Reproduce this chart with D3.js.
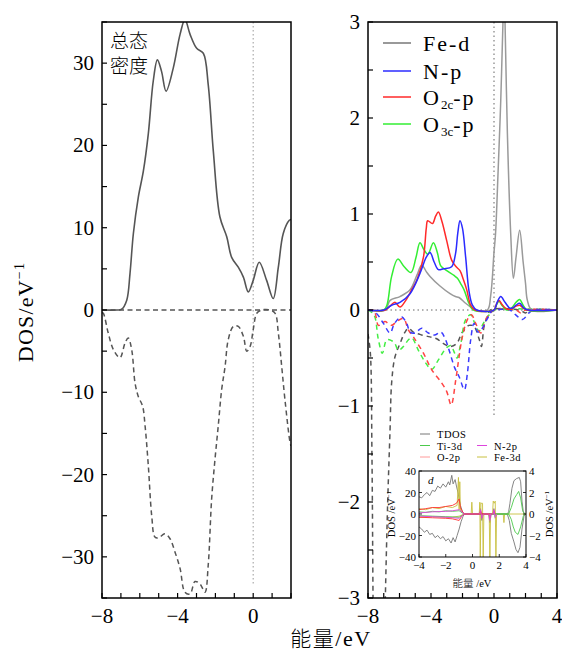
<!DOCTYPE html>
<html>
<head>
<meta charset="utf-8">
<script src="https://cdn.jsdelivr.net/npm/d3@7"></script>
<style>
  body { margin: 0; background: #fff; }
  text { font-family: "Liberation Serif", "DejaVu Serif", serif; fill: #000; }
  .cjk { font-family: "Noto Sans CJK SC", sans-serif; font-weight: 300; }
</style>
</head>
<body>
<svg id="chart" width="562" height="657"></svg>
<script>
// ---------- total DOS (left panel), energy in eV, DOS in states/eV ----------
const totalUp = [[-8,0],[-7.2,0],[-6.96,0.1],[-6.69,1.2],[-6.52,4.4],[-6.34,9.3],[-6.08,13.7],[-5.81,16.9],[-5.55,21.4],[-5.29,27.8],[-5.07,30.4],[-4.85,29],[-4.61,26.6],[-4.23,29.4],[-3.87,33.5],[-3.61,35.3],[-3.34,33.5],[-2.99,31.8],[-2.64,31.2],[-2.38,27.4],[-2.11,19.3],[-1.76,11.3],[-1.4,8.9],[-1.14,6.4],[-0.79,5.2],[-0.52,4.0],[-0.26,2.2],[0,3.6],[0.32,5.8],[0.71,3.6],[1.06,1.4],[1.33,5.2],[1.59,9.3],[1.91,10.9],[2,11]];
const totalDown = [[-8,-0.3],[-7.93,-0.4],[-7.67,-2.8],[-7.4,-4.8],[-7.05,-5.8],[-6.78,-4.0],[-6.61,-3.4],[-6.43,-4.8],[-6.25,-8.9],[-6.08,-10.5],[-5.85,-11.7],[-5.72,-14.1],[-5.55,-18.9],[-5.37,-25.0],[-5.2,-27.6],[-5.02,-27.7],[-4.67,-27.2],[-4.4,-27.8],[-4.14,-29.4],[-3.87,-31.4],[-3.61,-34.3],[-3.34,-34.5],[-3.08,-33.0],[-2.81,-33.3],[-2.55,-34.3],[-2.38,-31.0],[-2.2,-23.0],[-2.02,-18.1],[-1.85,-14.1],[-1.67,-9.7],[-1.49,-6.9],[-1.32,-3.6],[-1.05,-2.0],[-0.79,-2.0],[-0.52,-3.2],[-0.34,-5.0],[-0.16,-4.4],[0,-2.4],[0.19,-0.4],[0.45,0],[0.9,0],[1.16,-0.4],[1.33,-2.8],[1.51,-6.9],[1.68,-10.9],[1.95,-16.1],[2,-16.5]];

// ---------- projected DOS (right panel), spin up ----------
const feUp = [[-8,0],[-6.9,0],[-6.6,0.1],[-5.97,0.14],[-5.33,0.21],[-4.9,0.36],[-4.59,0.47],[-4.3,0.4],[-4.06,0.35],[-3.43,0.25],[-2.79,0.17],[-2.45,0.14],[-2.22,0.13],[-1.8,0.07],[-1.48,0.03],[-1.2,0],[-0.42,0],[-0.21,0.15],[0,0.6],[0.1,0.8],[0.25,1.4],[0.43,2.19],[0.57,3.0],[0.64,3.3],[0.7,3.0],[0.85,1.84],[1.06,0.8],[1.23,0.33],[1.4,0.55],[1.63,0.83],[1.85,0.5],[2.0,0.28],[2.12,0.1],[2.4,0],[4,0]];
const npUp = [[-8,0],[-7,0],[-6.5,0.05],[-5.97,0.08],[-5.33,0.17],[-4.7,0.38],[-4.3,0.55],[-4.06,0.6],[-3.8,0.5],[-3.53,0.42],[-3.2,0.43],[-2.69,0.45],[-2.45,0.58],[-2.3,0.8],[-2.16,0.93],[-2.0,0.85],[-1.8,0.55],[-1.59,0.2],[-1.37,0.05],[-1.1,0],[0,0],[0.2,0.08],[0.43,0.14],[0.7,0.08],[1.0,0.02],[1.17,0.02],[1.4,0.05],[1.63,0.07],[1.9,0.02],[2.2,0],[4,0]];
const o2cUp = [[-8,0],[-6.9,0],[-6.6,0.04],[-6.29,0.08],[-5.97,0.03],[-5.6,0.1],[-5.2,0.22],[-4.9,0.31],[-4.48,0.55],[-4.3,0.85],[-4.21,0.93],[-3.91,0.9],[-3.7,0.98],[-3.53,1.02],[-3.3,0.92],[-3.0,0.72],[-2.69,0.52],[-2.4,0.45],[-2.16,0.41],[-1.95,0.32],[-1.73,0.21],[-1.48,0.05],[-1.2,0],[0,0],[0.15,0.06],[0.32,0.1],[0.5,0.06],[0.8,0.01],[1.1,0.01],[1.4,0.04],[1.63,0.05],[1.85,0.02],[2.1,0],[4,0]];
const o3cUp = [[-8,0],[-7.0,0],[-6.8,0.05],[-6.5,0.35],[-6.11,0.53],[-5.7,0.45],[-5.27,0.39],[-4.95,0.55],[-4.7,0.7],[-4.45,0.63],[-4.2,0.58],[-3.85,0.7],[-3.6,0.6],[-3.38,0.46],[-3.0,0.41],[-2.54,0.36],[-2.32,0.33],[-2.1,0.27],[-1.9,0.21],[-1.59,0.07],[-1.3,0],[0,0],[0.15,0.05],[0.32,0.09],[0.5,0.05],[0.8,0],[1.1,0.02],[1.4,0.08],[1.63,0.11],[1.85,0.05],[2.1,0],[4,0]];

// ---------- projected DOS (right panel), spin down ----------
const feDown = [[-8,-0.25],[-7.85,-0.45],[-7.75,-1.5],[-7.65,-3.5],[-7.4,-6],[-7.1,-4.5],[-6.9,-3.0],[-6.75,-2.0],[-6.6,-1.25],[-6.5,-0.76],[-6.29,-0.49],[-5.97,-0.35],[-5.65,-0.23],[-5.43,-0.19],[-5.12,-0.23],[-4.59,-0.26],[-4.06,-0.28],[-3.64,-0.3],[-3.21,-0.35],[-2.79,-0.38],[-2.37,-0.35],[-2.05,-0.24],[-1.9,-0.21],[-1.59,-0.16],[-1.27,-0.17],[-0.95,-0.3],[-0.8,-0.38],[-0.63,-0.17],[-0.42,-0.07],[-0.2,0],[1.6,0],[2.0,-0.03],[2.3,0],[4,0]];
const npDown = [[-8,0],[-7.5,-0.03],[-7.02,-0.14],[-6.6,-0.24],[-6.35,-0.15],[-6.07,-0.09],[-5.86,-0.07],[-5.54,-0.14],[-5.33,-0.23],[-5.02,-0.24],[-4.59,-0.19],[-4.17,-0.24],[-3.75,-0.26],[-3.38,-0.23],[-3.1,-0.3],[-2.83,-0.43],[-2.5,-0.6],[-2.2,-0.7],[-1.88,-0.83],[-1.69,-0.66],[-1.48,-0.31],[-1.27,-0.14],[-1.02,-0.23],[-0.74,-0.19],[-0.42,-0.09],[-0.1,-0.01],[1.0,0],[1.38,-0.05],[1.8,-0.1],[2.22,-0.03],[2.5,0],[4,0]];
const o2cDown = [[-8,0],[-7.7,0],[-7.55,-0.03],[-7.34,-0.16],[-7.1,-0.14],[-6.92,-0.12],[-6.5,-0.16],[-6.18,-0.12],[-5.75,-0.09],[-5.43,-0.21],[-5.12,-0.28],[-4.48,-0.45],[-3.96,-0.62],[-3.32,-0.76],[-3.0,-0.85],[-2.72,-0.99],[-2.43,-0.73],[-2.22,-0.49],[-2.01,-0.28],[-1.69,-0.1],[-1.43,-0.05],[-1.16,-0.14],[-0.84,-0.24],[-0.53,-0.1],[-0.21,-0.03],[0,0],[1.4,0],[1.7,-0.03],[2.0,0],[4,0]];
const o3cDown = [[-8,0],[-7.62,-0.05],[-7.35,-0.3],[-7.09,-0.45],[-6.81,-0.31],[-6.5,-0.32],[-6.29,-0.35],[-6.07,-0.42],[-5.75,-0.38],[-5.43,-0.31],[-5.22,-0.29],[-4.8,-0.42],[-4.38,-0.54],[-3.96,-0.62],[-3.53,-0.52],[-3.05,-0.4],[-2.75,-0.37],[-2.5,-0.45],[-2.35,-0.5],[-2.11,-0.35],[-1.8,-0.1],[-1.48,-0.05],[-1.27,-0.12],[-0.95,-0.22],[-0.74,-0.16],[-0.42,-0.07],[-0.1,-0.02],[0,0],[4,0]];

// ---------- inset (comparison system) ----------
const insetTdos = [[-4,16],[-3.8,15],[-3.6,18],[-3.4,20],[-3.2,17],[-3,22],[-2.8,21],[-2.6,26],[-2.4,24],[-2.2,28],[-2,25],[-1.8,30],[-1.7,27],[-1.55,36],[-1.45,28],[-1.3,32],[-1.2,26],[-1.05,18],[-0.9,8],[-0.75,2],[-0.6,0],[0.5,0],[0.6,5],[0.7,-6],[0.8,0],[1.2,0],[1.3,-8],[1.4,0],[1.5,0],[1.6,5],[1.7,-4],[1.8,0],[2.6,0],[2.7,2],[2.8,10],[2.95,24],[3.1,31],[3.3,33],[3.5,34],[3.6,30],[3.7,12],[3.8,2],[3.9,0],[4,0]];
const insetTdosDown = [[-4,-12],[-3.8,-14],[-3.6,-17],[-3.4,-15],[-3.2,-19],[-3,-18],[-2.8,-22],[-2.6,-20],[-2.4,-23],[-2.2,-21],[-2,-25],[-1.8,-23],[-1.6,-27],[-1.45,-22],[-1.3,-26],[-1.15,-20],[-1,-14],[-0.85,-7],[-0.7,-2],[-0.6,0],[2.6,0],[2.75,-6],[2.9,-18],[3.1,-26],[3.25,-33],[3.4,-36],[3.55,-31],[3.7,-14],[3.85,-2],[3.95,0]];
const insetTi = [[-4,2],[-3.5,1.5],[-3,2.5],[-2.5,2],[-2,3],[-1.5,2.5],[-1,3],[-0.7,0.5],[-0.6,0],[2.7,0],[2.9,6],[3.1,14],[3.3,18],[3.45,21],[3.6,15],[3.75,3],[3.9,0]];
const insetTiDown = [[-4,-1.5],[-3,-2],[-2,-2.5],[-1,-3],[-0.6,0],[2.7,0],[2.9,-5],[3.05,-12],[3.2,-17],[3.4,-19],[3.6,-12],[3.8,-2],[3.9,0]];
const insetO = [[-4,4],[-3.5,5],[-3,6],[-2.5,6],[-2,7],[-1.5,8],[-1.2,10],[-1.0,14],[-0.9,6],[-0.7,1],[-0.6,0],[0.55,0],[0.6,3],[0.7,0],[1.55,0],[1.6,3],[1.7,0]];
const insetODown = [[-4,-3],[-3,-3.5],[-2,-4],[-1.5,-4.5],[-1,-6],[-0.8,-2],[-0.6,0],[1.25,0],[1.3,-4],[1.35,0]];
const insetN = [[-4,1],[-3,2],[-2,2.5],[-1.5,3],[-1,4],[-0.7,1],[-0.6,0],[0.55,0],[0.6,4],[0.7,-4],[0.8,0],[1.25,0],[1.3,-6],[1.35,0],[1.55,0],[1.6,4],[1.7,-3],[1.8,0]];
const insetNDown = [[-4,-2],[-3,-2.5],[-2,-3],[-1.5,-3.5],[-1,-4],[-0.7,-1],[-0.6,0]];
const insetFe = [[-4,5],[-3.5,4],[-3,6],[-2.5,5],[-2,7],[-1.5,6],[-1.15,8],[-1.05,34],[-1.0,4],[-0.95,30],[-0.9,3],[-0.7,1],[-0.6,0],[-0.1,0],[-0.05,11],[0,0],[0.5,0],[0.55,11],[0.58,-45],[0.63,10],[0.75,10],[0.8,-45],[0.85,0],[1.25,0],[1.3,-45],[1.35,0],[1.5,0],[1.55,12],[1.62,10],[1.7,12],[1.75,-45],[1.8,0],[2.3,0],[2.35,-8],[2.4,0],[4,0]];
const insetFeDown = [[-4,-3],[-3,-2.5],[-2,-3],[-1.5,-3],[-1,-2],[-0.6,0]];

// axis tick values and labels
const leftYTicks = [-30,-20,-10,0,10,20,30];
const leftXTicks = [-8,-4,0];
const rightYTicks = [-3,-2,-1,0,1,2,3];
const rightXTicks = [-8,-4,0,4];
const insetXTicks = [-4,-2,0,2,4];
const insetYTicks = [-40,-20,0,20,40];
const insetY2Ticks = [-4,-2,0,2,4];

const legendNames = ["Fe-d","N-p","O2c-p","O3c-p"];
const insetLegendNames = ["TDOS","Ti-3d","O-2p","N-2p","Fe-3d"];

// ---------- drawing ----------
const svg = d3.select("#chart");
const minus = s => String(s).replace("-", "\u2212");

const L = {x0:102, x1:291, y0:22, y1:598};
const R = {x0:368, x1:557, y0:22, y1:598};

const xL = d3.scaleLinear().domain([-8,2]).range([L.x0, L.x1]);
const yL = d3.scaleLinear().domain([-35,35]).range([L.y1, L.y0]);
const xR = d3.scaleLinear().domain([-8,4]).range([R.x0, R.x1]);
const yR = d3.scaleLinear().domain([-3,3]).range([R.y1, R.y0]);

const defs = svg.append("defs");
function clip(id, P) {
  defs.append("clipPath").attr("id", id).append("rect")
    .attr("x", P.x0).attr("y", P.y0).attr("width", P.x1 - P.x0).attr("height", P.y1 - P.y0);
}
clip("clipL", L); clip("clipR", R);

const smooth = d3.curveCatmullRom.alpha(0.5);
function lineFor(x, y, curve) {
  return d3.line().x(d => x(d[0])).y(d => y(d[1])).curve(curve || smooth);
}

// ----- left panel: total DOS -----
const gL = svg.append("g").attr("clip-path", "url(#clipL)");
gL.append("line").attr("x1", xL(0)).attr("x2", xL(0)).attr("y1", L.y0).attr("y2", yL(-33.5))
  .attr("stroke", "#aaa").attr("stroke-width", 1.2).attr("stroke-dasharray", "1.5,2.5");
gL.append("line").attr("x1", L.x0).attr("x2", L.x1).attr("y1", yL(0)).attr("y2", yL(0))
  .attr("stroke", "#555").attr("stroke-width", 1.4).attr("stroke-dasharray", "5,3.5");
gL.append("path").datum(totalUp).attr("d", lineFor(xL, yL))
  .attr("fill", "none").attr("stroke", "#555").attr("stroke-width", 1.6);
gL.append("path").datum(totalDown).attr("d", lineFor(xL, yL))
  .attr("fill", "none").attr("stroke", "#555").attr("stroke-width", 1.5).attr("stroke-dasharray", "5,3.5");

// ----- right panel: projected DOS -----
const gR = svg.append("g").attr("clip-path", "url(#clipR)");
gR.append("line").attr("x1", R.x0).attr("x2", R.x1).attr("y1", yR(0)).attr("y2", yR(0))
  .attr("stroke", "#999").attr("stroke-width", 1.5).attr("stroke-dasharray", "1.5,3");
gR.append("line").attr("x1", xR(0)).attr("x2", xR(0)).attr("y1", R.y0).attr("y2", yR(-1.1))
  .attr("stroke", "#999").attr("stroke-width", 1.5).attr("stroke-dasharray", "1.5,3");

const upSeries = [
  {d: feUp, c: "#9a9a9a"}, {d: o3cUp, c: "#33ee33"}, {d: o2cUp, c: "#ff2a2a"}, {d: npUp, c: "#2b2bff"}
];
const downSeries = [
  {d: feDown, c: "#555"}, {d: o3cDown, c: "#44ee44"}, {d: o2cDown, c: "#ff4444"}, {d: npDown, c: "#3a3aff"}
];
downSeries.forEach(s => gR.append("path").datum(s.d).attr("d", lineFor(xR, yR))
  .attr("fill", "none").attr("stroke", s.c).attr("stroke-width", 1.5).attr("stroke-dasharray", "5,4"));
upSeries.forEach(s => gR.append("path").datum(s.d).attr("d", lineFor(xR, yR))
  .attr("fill", "none").attr("stroke", s.c).attr("stroke-width", 1.5));

// ----- frames, ticks, labels -----
function frame(P) {
  svg.append("rect").attr("x", P.x0).attr("y", P.y0).attr("width", P.x1 - P.x0).attr("height", P.y1 - P.y0)
    .attr("fill", "none").attr("stroke", "#000").attr("stroke-width", 1.5);
}
frame(L); frame(R);

function ticks(P, x, y, xStep, yStep, xLabels, yLabels) {
  const g = svg.append("g").attr("stroke", "#000").attr("stroke-width", 1.2);
  const [xa, xb] = x.domain(), [ya, yb] = y.domain();
  for (let v = Math.ceil(xa / xStep) * xStep; v <= xb + 1e-9; v += xStep)
    g.append("line").attr("x1", x(v)).attr("x2", x(v)).attr("y1", P.y1).attr("y2", P.y1 - 5);
  for (let v = Math.ceil(ya / yStep) * yStep; v <= yb + 1e-9; v += yStep)
    g.append("line").attr("x1", P.x0).attr("x2", P.x0 + 5).attr("y1", y(v)).attr("y2", y(v));
  xLabels.forEach(v => svg.append("text").attr("x", x(v)).attr("y", P.y1 + 25)
    .attr("text-anchor", "middle").attr("font-size", 21).text(minus(v)));
  yLabels.forEach(v => svg.append("text").attr("x", P.x0 - 8).attr("y", y(v) + 7)
    .attr("text-anchor", "end").attr("font-size", 21).text(minus(v)));
}
ticks(L, xL, yL, 1, 5, leftXTicks, leftYTicks);
ticks(R, xR, yR, 1, 0.5, rightXTicks, rightYTicks);

// panel annotation (two lines in one text block)
const note = svg.append("text").attr("class", "cjk").attr("font-size", 19);
note.append("tspan").attr("x", 110).attr("y", 48).text("总态");
note.append("tspan").attr("x", 110).attr("y", 73).text("密度");

// axis titles
const yt = svg.append("text").attr("transform", "translate(33,312) rotate(-90)")
  .attr("text-anchor", "middle").attr("font-size", 22).attr("letter-spacing", 1.2);
yt.append("tspan").text("DOS/eV");
yt.append("tspan").attr("font-size", 14).attr("dy", -9).text("\u22121");
const xt = svg.append("text").attr("x", 331).attr("y", 646).attr("text-anchor", "middle").attr("font-size", 22)
  .attr("letter-spacing", 1.5);
xt.append("tspan").attr("class", "cjk").attr("font-size", 21).text("能量");
xt.append("tspan").text("/eV");

// legend of right panel
const legendColors = ["#777", "#2b2bff", "#ff2a2a", "#33ee33"];
const legendY = [43, 71, 97, 124];
legendNames.forEach((name, i) => {
  svg.append("line").attr("x1", 383).attr("x2", 411).attr("y1", legendY[i]).attr("y2", legendY[i])
    .attr("stroke", legendColors[i]).attr("stroke-width", 1.5);
  const t = svg.append("text").attr("x", 423).attr("y", legendY[i] + 8).attr("font-size", 22)
    .attr("letter-spacing", 2);
  const m = name.match(/^O(\dc)(-p)$/);
  if (m) {
    t.append("tspan").text("O");
    t.append("tspan").attr("font-size", 13).attr("dy", 4).attr("letter-spacing", 0).text(m[1]);
    t.append("tspan").attr("dy", -4).text(m[2]);
  } else t.text(name);
});

// ----- inset -----
const I = {x0:419, x1:526, y0:471, y1:557};
const xI = d3.scaleLinear().domain([-4,4]).range([I.x0, I.x1]);
const yI = d3.scaleLinear().domain([-40,40]).range([I.y1, I.y0]);
const yI2 = d3.scaleLinear().domain([-4,4]).range([I.y1, I.y0]);
svg.append("rect").attr("x", I.x0).attr("y", I.y0).attr("width", I.x1 - I.x0).attr("height", I.y1 - I.y0).attr("fill", "#fff");
clip("clipI", I);
const gI = svg.append("g").attr("clip-path", "url(#clipI)");
const insetColors = {tdos:"#777", ti:"#4cc94c", o:"#ff3030", n:"#dd44dd", fe:"#c8c040"};
const insetSeries = [
  [insetTdos, insetColors.tdos], [insetTdosDown, insetColors.tdos],
  [insetFe, insetColors.fe], [insetFeDown, insetColors.fe],
  [insetTi, insetColors.ti], [insetTiDown, insetColors.ti],
  [insetO, insetColors.o], [insetODown, insetColors.o],
  [insetN, insetColors.n], [insetNDown, insetColors.n]
];
insetSeries.forEach(([d, c]) => gI.append("path").datum(d).attr("d", lineFor(xI, yI, d3.curveLinear))
  .attr("fill", "none").attr("stroke", c).attr("stroke-width", 0.9));
svg.append("rect").attr("x", I.x0).attr("y", I.y0).attr("width", I.x1 - I.x0).attr("height", I.y1 - I.y0)
  .attr("fill", "none").attr("stroke", "#000").attr("stroke-width", 1);
const gIt = svg.append("g").attr("stroke", "#000").attr("stroke-width", 0.8);
insetXTicks.forEach(v => gIt.append("line").attr("x1", xI(v)).attr("x2", xI(v)).attr("y1", I.y1).attr("y2", I.y1 - 3));
insetYTicks.forEach(v => gIt.append("line").attr("x1", I.x0).attr("x2", I.x0 + 3).attr("y1", yI(v)).attr("y2", yI(v)));
insetY2Ticks.forEach(v => gIt.append("line").attr("x1", I.x1).attr("x2", I.x1 - 3).attr("y1", yI2(v)).attr("y2", yI2(v)));
insetXTicks.forEach(v => svg.append("text").attr("x", xI(v)).attr("y", I.y1 + 12).attr("text-anchor", "middle")
  .attr("font-size", 11).text(minus(v)));
insetYTicks.forEach(v => svg.append("text").attr("x", I.x0 - 3).attr("y", yI(v) + 4).attr("text-anchor", "end")
  .attr("font-size", 11).text(minus(v)));
insetY2Ticks.forEach(v => svg.append("text").attr("x", I.x1 + 3).attr("y", yI2(v) + 4).attr("text-anchor", "start")
  .attr("font-size", 11).text(minus(v)));
svg.append("text").attr("x", 428).attr("y", 484).attr("font-size", 11).attr("font-style", "italic").text("d");
function insetYTitle(x) {
  const t = svg.append("text").attr("transform", `translate(${x},514) rotate(-90)`)
    .attr("text-anchor", "middle").attr("font-size", 10.5);
  t.append("tspan").text("DOS /eV");
  t.append("tspan").attr("font-size", 7).attr("dy", -4).text("\u22121");
}
insetYTitle(395); insetYTitle(553);
const ixt = svg.append("text").attr("x", 472).attr("y", 587).attr("text-anchor", "middle").attr("font-size", 10.5);
ixt.append("tspan").attr("class", "cjk").text("能量");
ixt.append("tspan").text(" /eV");

// inset legend
const insetLegend = [
  {x:420, y:434, c:insetColors.tdos}, {x:420, y:445.5, c:insetColors.ti}, {x:420, y:457, c:"#ff9a9a"},
  {x:477, y:445.5, c:insetColors.n}, {x:477, y:457, c:insetColors.fe}
];
insetLegendNames.forEach((name, i) => {
  const p = insetLegend[i];
  svg.append("line").attr("x1", p.x).attr("x2", p.x + 10).attr("y1", p.y).attr("y2", p.y)
    .attr("stroke", p.c).attr("stroke-width", 1);
  svg.append("text").attr("x", p.x + 17).attr("y", p.y + 4).attr("font-size", 10.5)
    .attr("letter-spacing", 0.5).text(name);
});
</script>
</body>
</html>
